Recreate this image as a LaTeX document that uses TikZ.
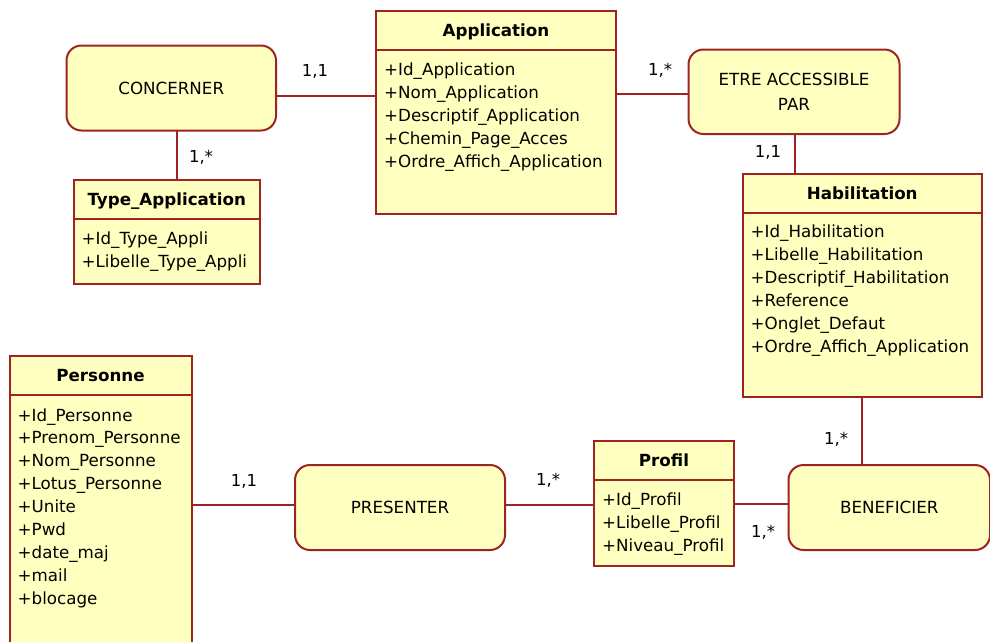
\documentclass[tikz,border=0pt]{standalone}
\usepackage{fontspec}
\setmainfont{DejaVu Sans}
\definecolor{boxfill}{RGB}{255,255,192}
\definecolor{boxline}{RGB}{160,35,35}
\tikzset{
  cls/.style={draw=boxline, fill=boxfill, line width=2pt, rectangle, inner sep=0pt, outer sep=0pt},
  rel/.style={draw=boxline, fill=boxfill, line width=2pt, rectangle, rounded corners=15pt, inner sep=0pt, outer sep=0pt, align=center, font=\fontsize{16.7}{25}\selectfont},
  title/.style={font=\fontsize{16.7}{20}\selectfont\bfseries, inner sep=0pt},
  attr/.style={font=\fontsize{16.7}{20}\selectfont, inner sep=0pt},
  card/.style={font=\fontsize{16.5}{18}\selectfont, inner sep=0pt},
  link/.style={draw=boxline, line width=2pt},
  divider/.style={draw=boxline, line width=2pt}
}
\begin{document}
\begin{tikzpicture}[x=1pt,y=-1pt]
\useasboundingbox (0,0) rectangle (990,641);
\clip (0,0) rectangle (990,641);
\fill[white] (0,0) rectangle (990,641);

% class boxes
\node[cls, minimum width=240pt, minimum height=203pt] (app) at (496,112.5) {};
\node[cls, minimum width=186.5pt, minimum height=104pt] (type) at (166.75,232) {};
\node[cls, minimum width=239.5pt, minimum height=223.5pt] (habil) at (862.25,285.25) {};
\node[cls, minimum width=140pt, minimum height=125pt] (profil) at (664,503.5) {};
\node[cls, minimum width=182pt, minimum height=304pt] (pers) at (100.5,508) {};

% relation boxes
\node[rel, minimum width=209.5pt, minimum height=85pt] (conc) at (171.25,88) {CONCERNER};
\node[rel, minimum width=211pt, minimum height=84.5pt] (etre) at (794,91.75) {ETRE ACCESSIBLE\\PAR};
\node[rel, minimum width=201.5pt, minimum height=85pt] (benef) at (889.25,507.5) {BENEFICIER};
\node[rel, minimum width=210pt, minimum height=85pt] (pres) at (400,507.5) {PRESENTER};

% dividers
\foreach \b/\d in {app/38.5, type/39, habil/39, profil/39, pers/39}
  \draw[divider] ([yshift=-\d pt]\b.north west) -- ([yshift=-\d pt]\b.north east);

% titles
\node[title, anchor=base] (appT) at ([yshift=-25.5pt]app.north) {Application};
\node[title, anchor=base] (typeT) at ([yshift=-25.5pt]type.north) {Type\_Application};
\node[title, anchor=base] (habilT) at ([yshift=-25.5pt]habil.north) {Habilitation};
\node[title, anchor=base] (profilT) at ([yshift=-25.5pt]profil.north) {Profil};
\node[title, anchor=base] (persT) at ([yshift=-25.5pt]pers.north) {Personne};

% attributes
\foreach \t [count=\i] in {+Id\_Application, +Nom\_Application, +Descriptif\_Application, +Chemin\_Page\_Acces, +Ordre\_Affich\_Application}
  \node[attr, anchor=base west] (app-a\i) at ([xshift=8pt, yshift={-64pt-(\i-1)*23pt}]app.north west) {\t};
\foreach \t [count=\i] in {+Id\_Type\_Appli, +Libelle\_Type\_Appli}
  \node[attr, anchor=base west] (type-a\i) at ([xshift=8pt, yshift={-64pt-(\i-1)*23pt}]type.north west) {\t};
\foreach \t [count=\i] in {+Id\_Habilitation, +Libelle\_Habilitation, +Descriptif\_Habilitation, +Reference, +Onglet\_Defaut, +Ordre\_Affich\_Application}
  \node[attr, anchor=base west] (habil-a\i) at ([xshift=8pt, yshift={-64pt-(\i-1)*23pt}]habil.north west) {\t};
\foreach \t [count=\i] in {+Id\_Profil, +Libelle\_Profil, +Niveau\_Profil}
  \node[attr, anchor=base west] (profil-a\i) at ([xshift=8pt, yshift={-64pt-(\i-1)*23pt}]profil.north west) {\t};
\foreach \t [count=\i] in {+Id\_Personne, +Prenom\_Personne, +Nom\_Personne, +Lotus\_Personne, +Unite, +Pwd, +date\_maj, +mail, +blocage}
  \node[attr, anchor=base west] (pers-a\i) at ([xshift=8pt, yshift={-65pt-(\i-1)*22.9pt}]pers.north west) {\t};

% connectors
\draw[link] ([yshift=-7.7pt]conc.east) -- ([yshift=-7.7pt]conc.east -| app.west);
\draw[link] ([xshift=6pt]conc.south) -- ([xshift=6pt]conc.south |- type.north);
\draw[link] ([yshift=-2.25pt]etre.west) -- ([yshift=-2.25pt]etre.west -| app.east);
\draw[link] ([xshift=1.3pt]etre.south) -- ([xshift=1.3pt]etre.south |- habil.north);
\draw[link] (habil.south) -- (habil.south |- benef.north);
\draw[link] ([yshift=-0.8pt]profil.east) -- ([yshift=-0.8pt]profil.east -| benef.west);
\draw[link] ([yshift=2.8pt]pres.east) -- ([yshift=2.8pt]pres.east -| profil.west);
\draw[link] ([yshift=2.8pt]pres.west) -- ([yshift=2.8pt]pres.west -| pers.east);

% cardinalities
\node[card] (c1) at (315,71) {1,1};
\node[card] (c2) at (201,157) {1,*};
\node[card] (c3) at (660,70) {1,*};
\node[card] (c4) at (768,152) {1,1};
\node[card] (c5) at (836,439) {1,*};
\node[card] (c6) at (763,532) {1,*};
\node[card] (c7) at (548,480) {1,*};
\node[card] (c8) at (244,481) {1,1};
\end{tikzpicture}
\end{document}
